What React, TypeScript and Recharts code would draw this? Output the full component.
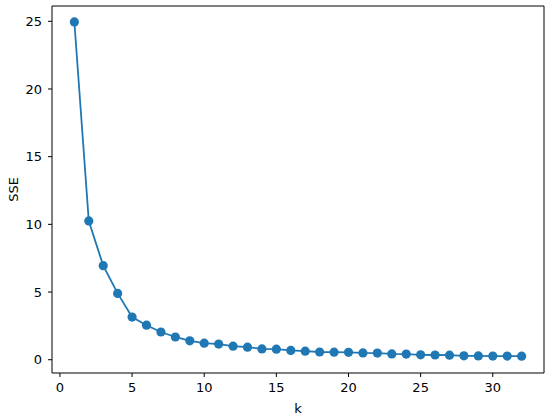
import React from "react";
import { LineChart, Line, XAxis, YAxis, ReferenceLine } from "recharts";

const kValues = [
  1, 2, 3, 4, 5, 6, 7, 8, 9, 10, 11, 12, 13, 14, 15, 16,
  17, 18, 19, 20, 21, 22, 23, 24, 25, 26, 27, 28, 29, 30, 31, 32,
];
const sseValues = [
  24.95, 10.25, 6.95, 4.9, 3.15, 2.55, 2.05, 1.68, 1.4, 1.22, 1.16, 1.0, 0.93, 0.8, 0.78, 0.69,
  0.63, 0.57, 0.56, 0.55, 0.5, 0.49, 0.43, 0.42, 0.36, 0.35, 0.34, 0.29, 0.28, 0.27, 0.27, 0.26,
];
const xTicks = [0, 5, 10, 15, 20, 25, 30];
const yTicks = [0, 5, 10, 15, 20, 25];

const data = kValues.map((k, i) => ({ k, sse: sseValues[i] }));

const font = "DejaVu Sans, sans-serif";
const tickStyle = { fill: "#000", fontSize: 13, fontFamily: font };
const axisColor = "#000";
const xDomain = [-0.55, 33.55];
const yDomain = [-0.98, 26.13];

export default function App() {
  return (
    <div style={{ position: "absolute", left: 0, top: 0, width: 550, height: 417, background: "#fff" }}>
      <LineChart width={550} height={417} data={data} margin={{ top: 6, right: 6, bottom: 0, left: 0 }}>
        <XAxis
          dataKey="k"
          type="number"
          domain={xDomain}
          ticks={xTicks}
          allowDataOverflow
          tick={tickStyle}
          tickSize={4}
          tickMargin={6}
          stroke={axisColor}
          height={44}
          label={{ value: "k", position: "insideBottom", offset: 4, style: { fill: "#000", fontSize: 13, fontFamily: font } }}
        />
        <YAxis
          type="number"
          domain={yDomain}
          ticks={yTicks}
          allowDataOverflow
          tick={tickStyle}
          tickSize={4}
          tickMargin={6}
          stroke={axisColor}
          width={52}
          label={{ value: "SSE", angle: -90, position: "insideLeft", offset: 13, style: { fill: "#000", fontSize: 13, fontFamily: font, textAnchor: "middle" } }}
        />
        {/* top and right spines */}
        <ReferenceLine y={yDomain[1]} stroke={axisColor} ifOverflow="visible" />
        <ReferenceLine x={xDomain[1]} stroke={axisColor} ifOverflow="visible" />
        <Line
          dataKey="sse"
          stroke="#1f77b4"
          strokeWidth={1.8}
          dot={{ r: 4.6, fill: "#1f77b4", stroke: "#1f77b4", strokeWidth: 0 }}
          isAnimationActive={false}
        />
      </LineChart>
    </div>
  );
}
